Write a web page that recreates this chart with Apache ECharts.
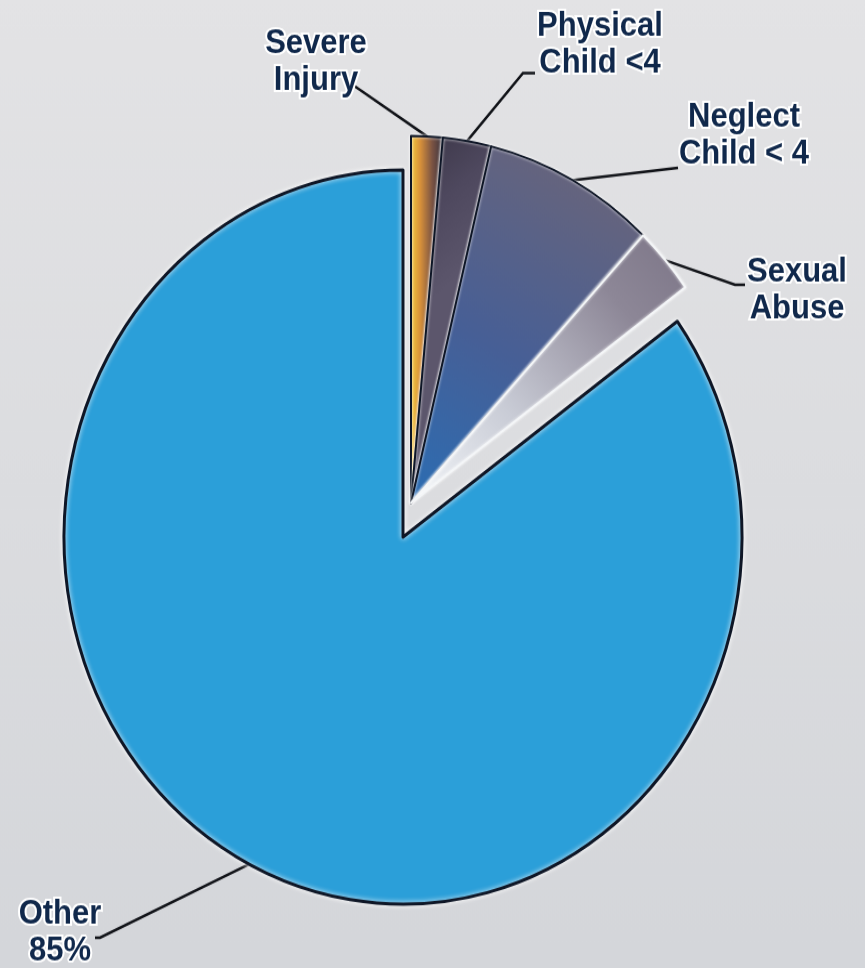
<!DOCTYPE html>
<html>
<head>
<meta charset="utf-8">
<title>Case types</title>
<script src="https://cdn.jsdelivr.net/npm/echarts@6/dist/echarts.min.js"></script>
<style>
  html, body { margin: 0; padding: 0; background: #dcdde0; overflow: hidden; }
  #wrap { width: 865px; height: 968px; overflow: hidden; }
  /* the pie is drawn slightly taller than wide */
  #chart { width: 865px; height: 894px; transform: scaleY(1.0828); transform-origin: 0 0; }
</style>
</head>
<body>
<div id="wrap"><div id="chart"></div></div>
<script>
// Share of cases by type (percent), clockwise from 12 o'clock
const categories = ['Severe Injury', 'Physical Child <4', 'Neglect Child < 4', 'Sexual Abuse', 'Other'];
const shares = [1.5, 2.3, 8.2, 3.0, 85];
const shownValue = [null, null, null, null, '85%'];

const chart = echarts.init(document.getElementById('chart'), null, { renderer: 'canvas' });

const ink = '#10284b';
const edge = '#0e1626';

const fills = [
  { type: 'linear', x: 0, y: 0, x2: 1, y2: 0, colorStops: [
    { offset: 0, color: '#f7cf3e' }, { offset: 0.3, color: '#d8913a' },
    { offset: 0.65, color: '#7c5443' }, { offset: 1, color: '#33303e' } ] },
  { type: 'linear', x: 0, y: 0, x2: 1, y2: 0.3, colorStops: [
    { offset: 0, color: '#3a3546' }, { offset: 0.5, color: '#4e485e' }, { offset: 1, color: '#5c566c' } ] },
  { type: 'linear', x: 0, y: 1, x2: 0.75, y2: 0, colorStops: [
    { offset: 0, color: '#2b6db3' }, { offset: 0.45, color: '#475f96' }, { offset: 1, color: '#6b6579' } ] },
  { type: 'linear', x: 0, y: 1, x2: 1, y2: 0, colorStops: [
    { offset: 0, color: '#f4f7fa' }, { offset: 0.35, color: '#c9ccd6' },
    { offset: 0.75, color: '#8d8797' }, { offset: 1, color: '#7c7587' } ] },
  '#2b9fd9'
];

function labelText(i) {
  const name = categories[i].replace(' ', '\n');
  return shownValue[i] ? name + '\n' + shownValue[i] : name;
}

// centre of each text block
const labelSpots = [[316, 57], [600, 41], [744, 125.5], [797, 268], [60, 861]];
// where each leader line bends and where it stops next to its text
const leaderBends = [null, [523, 67.5], null, [735, 263], [100, 866]];
const leaderEnds = [[353, 78.5], [535, 67.5], [678, 155], [745, 263], [95, 866]];

const hidden = {
  itemStyle: { color: 'rgba(0,0,0,0)', borderWidth: 0, shadowBlur: 0 },
  label: { show: false }, labelLine: { show: false }
};

function buildData(visible) {
  return categories.map((name, i) => {
    if (!visible.includes(i)) return Object.assign({ name, value: shares[i] }, hidden);
    const isOther = i === 4;
    return {
      name, value: shares[i],
      itemStyle: {
        color: fills[i],
        borderColor: i === 3 ? '#f4f6f8' : edge,
        borderWidth: isOther ? 3 : 2,
        shadowColor: 'rgba(255,255,255,0.95)',
        shadowBlur: isOther ? 5 : 3
      }
    };
  });
}

const labelStyle = {
  show: true,
  formatter: p => labelText(p.dataIndex),
  fontFamily: 'Liberation Sans, Arial, sans-serif',
  fontWeight: 'bold',
  fontSize: 31,
  lineHeight: 34,
  color: ink,
  textBorderColor: '#ffffff',
  textBorderWidth: 4,
  align: 'center'
};

const lineStyle = {
  show: true, length: 10, length2: 8, smooth: false,
  lineStyle: { color: '#111318', width: 2.5 }
};

function placeLabel(params) {
  const i = params.dataIndex;
  const spot = labelSpots[i];
  const out = { x: spot[0], y: spot[1], align: 'center', verticalAlign: 'middle' };
  const pts = params.labelLinePoints;
  if (pts && pts.length) {
    const start = pts[0];
    out.labelLinePoints = leaderBends[i]
      ? [start, leaderBends[i], leaderEnds[i]]
      : [start, leaderEnds[i], leaderEnds[i]];
  }
  return out;
}

const common = {
  type: 'pie',
  radius: 339,
  startAngle: 90,
  clockwise: true,
  avoidLabelOverlap: false,
  animation: false,
  silent: true,
  emphasis: { disabled: true },
  label: labelStyle,
  labelLine: lineStyle,
  labelLayout: placeLabel
};

chart.setOption({
  backgroundColor: {
    type: 'linear', x: 0, y: 0, x2: 0, y2: 1,
    colorStops: [ { offset: 0, color: '#e3e3e5' }, { offset: 1, color: '#d4d6da' } ]
  },
  series: [
    Object.assign({}, common, {
      name: 'Other',
      center: [403, 496],
      data: buildData([4])
    }),
    Object.assign({}, common, {
      name: 'Reported types',
      center: [411, 464.5],
      data: buildData([0, 1, 2, 3])
    })
  ]
});
</script>
</body>
</html>
